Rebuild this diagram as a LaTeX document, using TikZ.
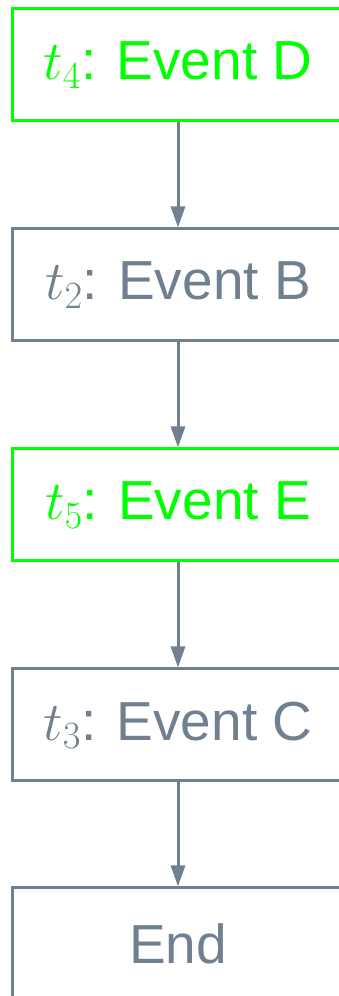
\documentclass[tikz,border=0pt]{standalone}
\usepackage{fix-cm}
\usepackage{fontspec}
\setsansfont{Liberation Sans}
\usetikzlibrary{arrows.meta}
\definecolor{slate}{RGB}{112,128,144}
\definecolor{brightgreen}{RGB}{0,255,0}
\begin{document}
\begin{tikzpicture}[x=1pt,y=1pt,
  eventbox/.style={draw=slate, text=slate, line width=3pt, rectangle,
    minimum width=332pt, minimum height=112pt, inner sep=0pt,
    font=\sffamily\fontsize{55}{62}\selectfont},
  activebox/.style={eventbox, draw=brightgreen, text=brightgreen, line width=3pt},
  flow/.style={draw=slate, line width=3pt, -{Triangle[length=21pt,width=14pt]}}]
\clip (0,0) rectangle (339,996);
\useasboundingbox (0,0) rectangle (339,996);
\node[activebox] (d) at (178,931) {$t_4$: Event D};
\node[eventbox]  (b) at (178,711) {$t_2$: Event B};
\node[activebox] (e) at (178,491) {$t_5$: Event E};
\node[eventbox]  (c) at (178,271) {$t_3$: Event C};
\node[eventbox]  (end) at (178,52) {End};
\draw[flow] (d) -- (b);
\draw[flow] (b) -- (e);
\draw[flow] (e) -- (c);
\draw[flow] (c) -- (end);
\end{tikzpicture}
\end{document}
